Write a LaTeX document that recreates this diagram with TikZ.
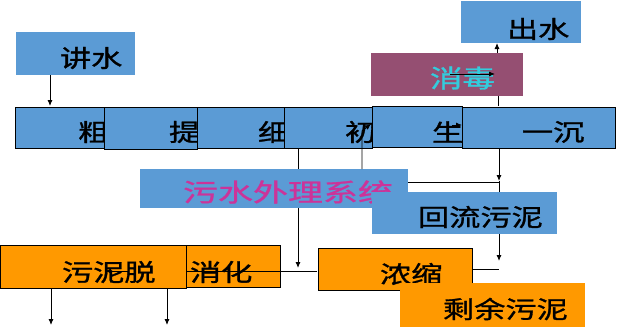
\documentclass[tikz,border=0pt]{standalone}
\usepackage{fontspec}
\newfontfamily\cjk[FakeStretch=1.3,FakeBold=1.2]{Noto Sans CJK SC}
\newfontfamily\cjkw[FakeStretch=1.4,FakeBold=1.2]{Noto Sans CJK SC}
\usetikzlibrary{arrows.meta}
\definecolor{boxblue}{HTML}{5B9BD5}
\definecolor{boxorange}{HTML}{FF9900}
\definecolor{boxpurple}{HTML}{954F72}
\definecolor{txtcyan}{HTML}{33CCDD}
\definecolor{txtmag}{HTML}{CC3399}
\begin{document}
\begin{tikzpicture}[x=1pt,y=-1pt,
  bx/.style={rectangle,inner sep=0pt,outer sep=0pt,anchor=north west},
  bluebox/.style={bx,fill=boxblue},
  bluebord/.style={bx,fill=boxblue,draw=black,line width=1pt},
  orangebox/.style={bx,fill=boxorange},
  orangebord/.style={bx,fill=boxorange,draw=black,line width=1pt},
  purplebox/.style={bx,fill=boxpurple},
  lbl/.style={inner sep=0pt,outer sep=0pt,anchor=west,font=\cjk\fontsize{24}{24}\selectfont},
  lblw/.style={inner sep=0pt,outer sep=0pt,anchor=west,font=\cjkw\fontsize{25}{25}\selectfont},
  ln/.style={draw=black,line width=0.9pt},
  arr/.style={ln,-{Latex[length=6pt,width=5pt]}}]
\useasboundingbox (0,0) rectangle (617,327);
% ---- free connector end points
\coordinate (c298a) at (298,148);
\coordinate (c298b) at (298,268);
\coordinate (c362a) at (362,169);
\coordinate (c362b) at (362,131);
\coordinate (c362c) at (371,124);
\coordinate (c182a) at (408,182);
\coordinate (c182b) at (499,182);
\coordinate (c499a) at (499,148);
\coordinate (c499b) at (499,181);
\coordinate (c499c) at (499,192);
\coordinate (c499d) at (499,234);
\coordinate (c499e) at (499,261);
\coordinate (c269a) at (472,269);
\coordinate (c269b) at (499,269);
\coordinate (c271a) at (317,271);
\coordinate (c271m) at (186,271);
\coordinate (c271n) at (128,271);
\coordinate (c271b) at (105,271);
\coordinate (cx51a) at (51,289);
\coordinate (cx51b) at (51,325);
\coordinate (cx167a) at (167,289);
\coordinate (cx167b) at (167,325);
\coordinate (cin50a) at (50,75);
\coordinate (cin50b) at (50,106);
\coordinate (cds1) at (498,106);
\coordinate (cds2) at (498,96);
\coordinate (cds3) at (497,53);
\coordinate (cds4) at (497,43);
\coordinate (cxd1) at (450,74);
\coordinate (cxd2) at (495,74);
\coordinate (csh1) at (452,125);
\coordinate (csh2) at (462,125);
% ---- connectors hidden behind boxes
\draw[arr] (c298a) -- (c298b);
\draw[ln] (c182a) -- (c182b);
% ---- top boxes
\node[bluebox,minimum width=119pt,minimum height=43pt] (jin) at (16,32) {};
\node[lbl] (jint) at (60,58) {讲水};
\node[bluebox,minimum width=120pt,minimum height=42pt] (chu) at (461,1) {};
\node[lbl] (chut) at (507,29) {出水};
\node[purplebox,minimum width=152pt,minimum height=43pt] (xd) at (371,53) {};
\node[lbl,text=txtcyan,font=\cjk\fontsize{25}{25}\selectfont] (xdt) at (430,78) {消毒};
% ---- main row
\node[bluebord,minimum width=89pt,minimum height=41pt] (m1) at (15,107) {};
\node[lbl] (m1t) at (78,132) {粗};
\node[bluebord,minimum width=93pt,minimum height=42pt] (m2) at (104,107) {};
\node[lbl] (m2t) at (169,132) {提};
\node[bluebord,minimum width=88pt,minimum height=41pt] (m3) at (197,107) {};
\node[lbl] (m3t) at (258,132) {细};
\node[bluebord,minimum width=88pt,minimum height=41pt] (m4) at (284,107) {};
\node[lbl] (m4t) at (345,132) {初};
\node[bluebord,minimum width=90pt,minimum height=41pt] (m5) at (372,106) {};
\node[lbl] (m5t) at (432,132) {生};
\node[bluebord,minimum width=153pt,minimum height=41pt] (m6) at (462,107) {};
\node[lbl] (m6t) at (522,132) {一沉};
% ---- middle boxes
\node[bluebox,minimum width=268pt,minimum height=39pt] (wsc) at (140,169) {};
\node[lblw,text=txtmag] (wsct) at (183,192) {污水外理系统};
\node[bluebox,minimum width=185pt,minimum height=42pt] (hl) at (372,192) {};
\node[lbl] (hlt) at (418,217) {回流污泥};
% ---- sludge boxes
\node[orangebord,minimum width=280pt,minimum height=42pt] (xh) at (0,245) {};
\node[orangebord,minimum width=186pt,minimum height=43pt] (wn) at (0,245) {};
\node[lbl] (wnt) at (62,272) {污泥脱};
\node[lbl] (xht) at (190,272) {消化};
\node[orangebord,minimum width=154pt,minimum height=42pt] (ns) at (318,248) {};
\node[lbl] (nst) at (380,274) {浓缩};
\node[orangebox,minimum width=185pt,minimum height=44pt] (sy) at (400,283) {};
\node[lbl] (syt) at (443,309) {剩余污泥};
% ---- visible connectors
\draw[arr] (cin50a) -- (cin50b);
\draw[ln] (cds1) -- (cds2);
\draw[arr] (cds3) -- (cds4);
\draw[arr] (cxd1) -- (cxd2);
\draw[arr] (csh1) -- (csh2);
\draw[arr] (c362a) -- (c362b) -- (c362c);
\draw[arr] (c499a) -- (c499b);
\draw[ln] (c499b) -- (c499c);
\draw[arr] (c499d) -- (c499e);
\draw[ln] (c269a) -- (c269b);
\draw[ln] (c271a) -- (c271m);
\draw[arr] (c271n) -- (c271b);
\draw[arr] (cx51a) -- (cx51b);
\draw[arr] (cx167a) -- (cx167b);
\end{tikzpicture}
\end{document}
